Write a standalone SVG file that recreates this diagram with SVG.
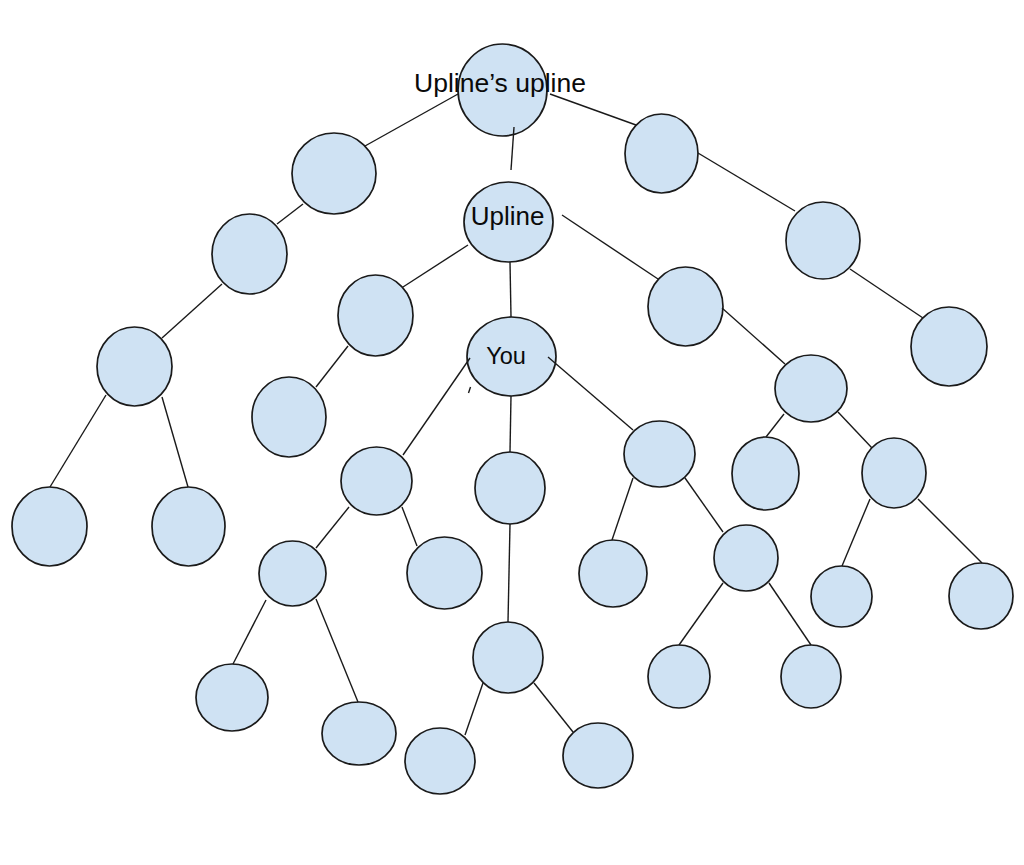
<svg xmlns="http://www.w3.org/2000/svg" width="1024" height="865" viewBox="0 0 1024 865">
<style>
.n{fill:#cfe2f3;stroke:#1a1a1a;stroke-width:1.7}
.c line{stroke:#1a1a1a;stroke-width:1.4;fill:none}
.t{font-family:"Liberation Sans",Arial,sans-serif;fill:#0a0a0a;text-anchor:middle}
</style>
<rect width="1024" height="865" fill="#fff"/>
<g id="nodes">
<g id="n_top"><ellipse class="n" cx="502.5" cy="90" rx="44.5" ry="46"/></g>
<g id="n_L1"><ellipse class="n" cx="334" cy="173.5" rx="42" ry="40.5"/></g>
<g id="n_L2"><ellipse class="n" cx="249.5" cy="254" rx="37.5" ry="40"/></g>
<g id="n_L3"><ellipse class="n" cx="134.5" cy="366.5" rx="37.5" ry="39.5"/></g>
<g id="n_L4a"><ellipse class="n" cx="49.5" cy="526.5" rx="37.5" ry="39.5"/></g>
<g id="n_L4b"><ellipse class="n" cx="188.5" cy="526.5" rx="36.5" ry="39.5"/></g>
<g id="n_R1"><ellipse class="n" cx="661.5" cy="153.5" rx="36.5" ry="39.5"/></g>
<g id="n_R2"><ellipse class="n" cx="823" cy="240.5" rx="37" ry="38.5"/></g>
<g id="n_R3"><ellipse class="n" cx="949" cy="346.5" rx="38" ry="39.5"/></g>
<g id="n_upline"><ellipse class="n" cx="508.5" cy="222" rx="44.5" ry="40"/></g>
<g id="n_UL"><ellipse class="n" cx="375.5" cy="315.5" rx="37.5" ry="40.5"/></g>
<g id="n_ULc"><ellipse class="n" cx="289" cy="417" rx="37" ry="40"/></g>
<g id="n_UR"><ellipse class="n" cx="685.5" cy="306.5" rx="37.5" ry="39.5"/></g>
<g id="n_URc"><ellipse class="n" cx="811" cy="388.5" rx="36" ry="33.5"/></g>
<g id="n_URcL"><ellipse class="n" cx="765.5" cy="473.5" rx="33.5" ry="36.5"/></g>
<g id="n_URcR"><ellipse class="n" cx="894" cy="473" rx="32" ry="35"/></g>
<g id="n_URcRL"><ellipse class="n" cx="841.5" cy="596.5" rx="30.5" ry="30.5"/></g>
<g id="n_URcRR"><ellipse class="n" cx="981" cy="596" rx="32" ry="33"/></g>
<g id="n_you"><ellipse class="n" cx="511.5" cy="356.5" rx="44.5" ry="39.5"/></g>
<g id="n_YL"><ellipse class="n" cx="376.5" cy="481" rx="35.5" ry="34"/></g>
<g id="n_YLL"><ellipse class="n" cx="292.5" cy="573.5" rx="33.5" ry="32.5"/></g>
<g id="n_YLR"><ellipse class="n" cx="444.5" cy="573" rx="37.5" ry="36"/></g>
<g id="n_YLLL"><ellipse class="n" cx="232" cy="697.5" rx="36" ry="33.5"/></g>
<g id="n_YLLR"><ellipse class="n" cx="359" cy="733.5" rx="37" ry="31.5"/></g>
<g id="n_YM"><ellipse class="n" cx="510" cy="488" rx="35" ry="36"/></g>
<g id="n_YM2"><ellipse class="n" cx="508" cy="657.5" rx="35" ry="35.5"/></g>
<g id="n_YM2L"><ellipse class="n" cx="440" cy="761" rx="35" ry="33"/></g>
<g id="n_YM2R"><ellipse class="n" cx="598" cy="755.5" rx="35" ry="32.5"/></g>
<g id="n_YR"><ellipse class="n" cx="659.5" cy="454" rx="35.5" ry="33"/></g>
<g id="n_YRL"><ellipse class="n" cx="613" cy="573.5" rx="34" ry="33.5"/></g>
<g id="n_YRR"><ellipse class="n" cx="746" cy="558" rx="32" ry="33"/></g>
<g id="n_YRRL"><ellipse class="n" cx="679" cy="676.5" rx="31" ry="31.5"/></g>
<g id="n_YRRR"><ellipse class="n" cx="811" cy="676.5" rx="30" ry="31.5"/></g>
</g>
<g id="connectors" class="c">
<line x1="458" y1="94" x2="365" y2="146"/>
<line x1="550" y1="94" x2="636" y2="125"/>
<line x1="514" y1="127" x2="511" y2="170"/>
<line x1="303" y1="204" x2="277" y2="224"/>
<line x1="222" y1="284" x2="162" y2="338"/>
<line x1="106" y1="395" x2="50" y2="487"/>
<line x1="162" y1="397" x2="188" y2="487"/>
<line x1="698" y1="153" x2="795" y2="211"/>
<line x1="850" y1="269" x2="923" y2="318"/>
<line x1="468" y1="245" x2="403" y2="287"/>
<line x1="348" y1="346" x2="316" y2="387"/>
<line x1="510" y1="262" x2="511" y2="317"/>
<line x1="562" y1="215" x2="658" y2="279"/>
<line x1="722" y1="308" x2="785" y2="364"/>
<line x1="784" y1="414" x2="766" y2="437"/>
<line x1="838" y1="412" x2="872" y2="448"/>
<line x1="870" y1="499" x2="842" y2="566"/>
<line x1="918" y1="499" x2="982" y2="563"/>
<line x1="470" y1="358" x2="403" y2="455"/>
<line x1="511" y1="396" x2="510" y2="452"/>
<line x1="548" y1="357" x2="633" y2="430"/>
<line x1="349" y1="507" x2="316" y2="548"/>
<line x1="402" y1="507" x2="417" y2="546"/>
<line x1="266" y1="600" x2="233" y2="664"/>
<line x1="316" y1="599" x2="358" y2="702"/>
<line x1="510" y1="524" x2="508" y2="622"/>
<line x1="483" y1="683" x2="465" y2="735"/>
<line x1="534" y1="683" x2="573" y2="732"/>
<line x1="633" y1="478" x2="612" y2="540"/>
<line x1="685" y1="478" x2="723" y2="532"/>
<line x1="723" y1="583" x2="679" y2="645"/>
<line x1="769" y1="583" x2="811" y2="645"/>
<line x1="470.5" y1="387" x2="468.5" y2="393"/>
</g>
<g id="labels">
<text class="t" x="500" y="92" font-size="26.5">Upline’s upline</text>
<text class="t" x="507.5" y="225" font-size="26">Upline</text>
<text class="t" x="506" y="363.5" font-size="23.5">You</text>
</g>
</svg>
